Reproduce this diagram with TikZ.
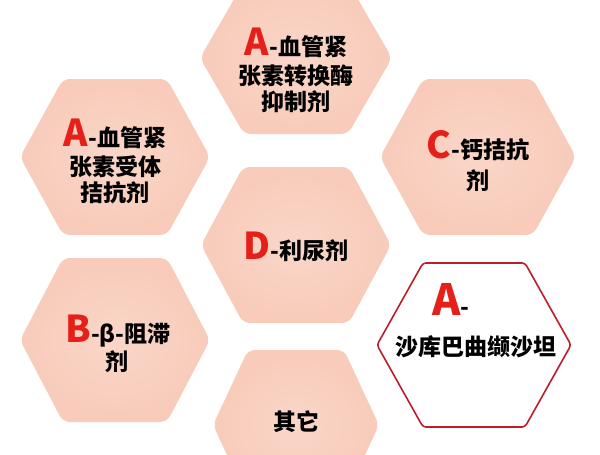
\documentclass[tikz,border=0pt]{standalone}
\usepackage{fontspec}
\setmainfont{Noto Sans CJK SC}
\definecolor{peach}{RGB}{248,203,186}
\definecolor{peachlight}{RGB}{250,214,200}
\definecolor{letred}{RGB}{228,32,24}
\definecolor{rimred}{RGB}{188,30,40}
\newcommand{\redlet}[2][37]{\textcolor{letred}{\fontsize{#1}{#1}\selectfont #2}}
\begin{document}
	\begin{tikzpicture}[x=1pt,y=-1pt,line join=round,line cap=round,
			hexa/.style={inner color=peachlight,outer color=peach,rounded corners=7pt},
			lbl/.style={anchor=base,inner sep=0pt,font=\fontsize{23}{27}\selectfont\bfseries}]
			\useasboundingbox (0,0) rectangle (600,455);
			% honeycomb cells: centre x / centre y / half width / half height / half edge
			\foreach \cx/\cy/\w/\h/\e in {296/58/96/76/52, 115/157/95/78/52, 478/157/98/78/55,
				296/245/95/78/53, 115/340/95/82/52, 296/425/83/75/48}
			\shade[hexa] ({\cx-\w},\cy) -- ({\cx-\e},{\cy-\h}) -- ({\cx+\e},{\cy-\h})
				-- ({\cx+\w},\cy) -- ({\cx+\e},{\cy+\h}) -- ({\cx-\e},{\cy+\h}) -- cycle;
			\draw[rimred,line width=1.6pt,fill=white,rounded corners=3pt]
				(377,345) -- (423,263) -- (525,263) -- (571,345) -- (525,427) -- (423,427) -- cycle;
			\path
			(296,55) node[lbl] (ace1) {\redlet{A}-血管紧}
			(296,84) node[lbl] (ace2) {张素转换酶}
			(296,110) node[lbl] (ace3) {抑制剂}
			(115,146) node[lbl] (arb1) {\redlet{A}-血管紧}
			(115,175) node[lbl] (arb2) {张素受体}
			(115,201) node[lbl] (arb3) {拮抗剂}
			(478,158) node[lbl] (ccb1) {\redlet{C}-钙拮抗}
			(478,189) node[lbl] (ccb2) {剂}
			(296,259) node[lbl] (diu) {\redlet{D}-利尿剂}
			(118,342) node[lbl] (bb1) {\redlet{B}-β-阻滞}
			(117,370) node[lbl] (bb2) {剂}
			(451,315) node[lbl] (arni1) {\redlet[43]{A}-}
			(476,355) node[lbl] (arni2) {沙库巴曲缬沙坦}
			(296,430) node[lbl] (other) {其它}
			;
	\end{tikzpicture}
\end{document}
